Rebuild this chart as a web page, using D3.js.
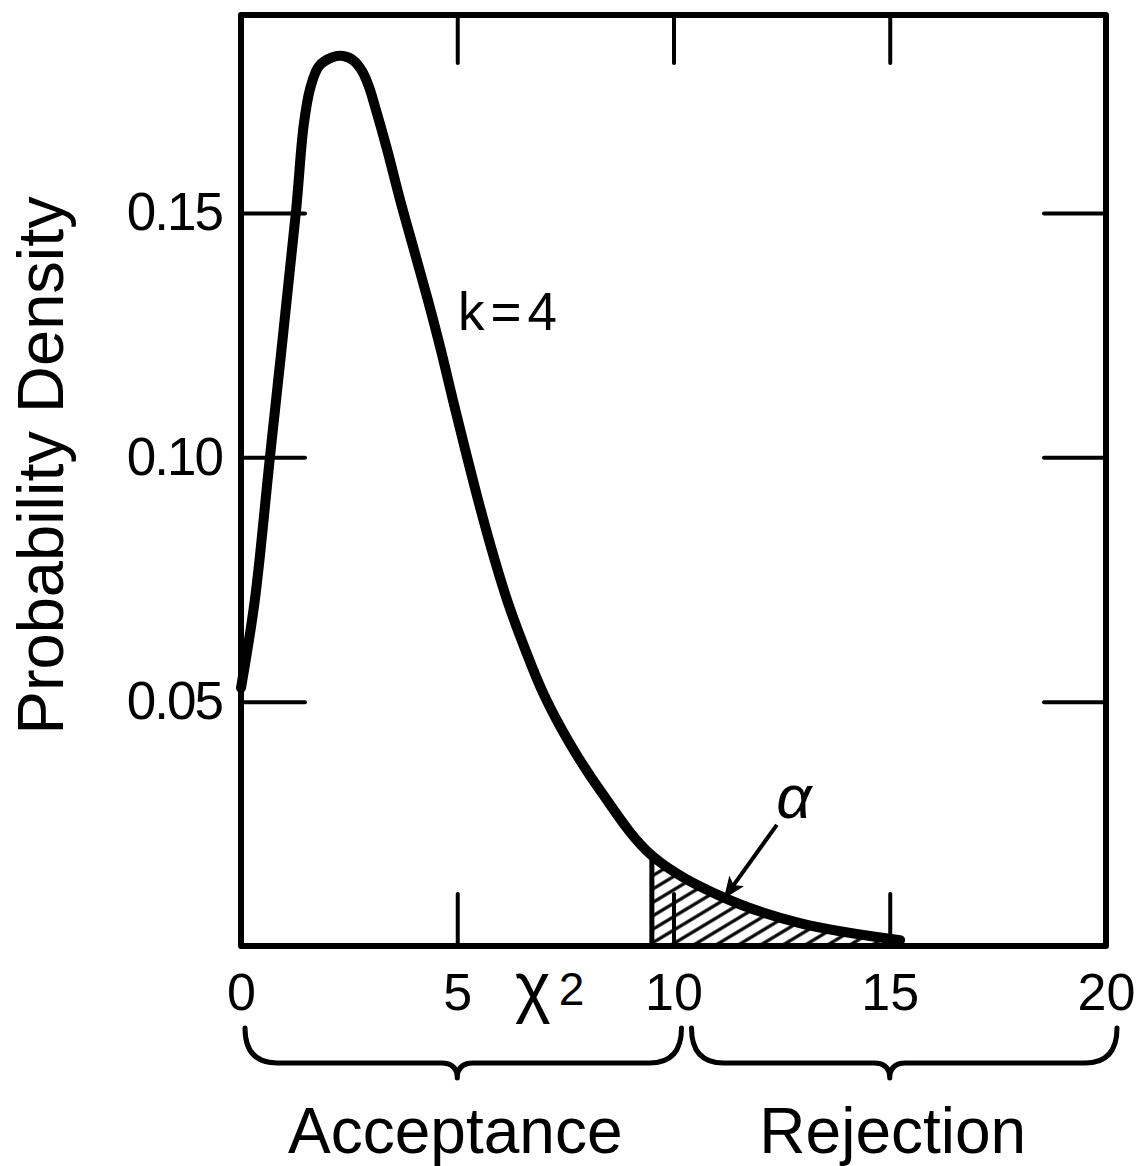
<!DOCTYPE html>
<html>
<head>
<meta charset="utf-8">
<script src="https://cdn.jsdelivr.net/npm/d3@7"></script>
<style>
  body { margin: 0; background: #fff; }
  svg { display: block; }
</style>
</head>
<body>
<div id="chart"></div>
<script>
// curve (chi-square, k = 4)
const chiX    = [0, 0.32, 0.67, 1.27, 1.45, 1.6, 1.8, 2.1, 2.36, 2.6, 2.8, 2.95, 3.1, 3.38, 3.68, 4.0, 4.32, 4.62, 4.9, 5.18, 5.46, 5.8, 6.17, 6.57, 7.0, 7.6, 8.3, 9.5, 11.14, 12.92, 15.24];
const density = [0.0528, 0.0708, 0.1001, 0.1502, 0.1680, 0.1755, 0.1800, 0.1818, 0.1821, 0.1812, 0.1790, 0.1760, 0.1717, 0.1629, 0.1526, 0.1424, 0.1322, 0.1220, 0.1117, 0.1017, 0.0920, 0.0810, 0.0703, 0.0607, 0.0515, 0.0415, 0.0319, 0.0185, 0.0100, 0.0047, 0.0012];

const xTicks = [0, 5, 10, 15, 20];
const xInnerTicks = [5, 10, 15];
const yTicks = [0.05, 0.10, 0.15];
const xExtent = [0, 20];
const yExtent = [0, 0.1905];

const critical = 9.5;
const regions = ["Acceptance", "Rejection"];
const regionSpans = [[0, 5, 10], [10, 15, 20]];   // start, middle, end
const alphaArrow = [[12.39, 0.0248], [11.19, 0.0100]];

const W = 1142, H = 1166;
const font = "'Liberation Sans', Arial, Helvetica, sans-serif";

const svg = d3.select("#chart").append("svg")
    .attr("width", W)
    .attr("height", H);

const x = d3.scaleLinear().domain(xExtent).range([241, 1106]);
const y = d3.scaleLinear().domain(yExtent).range([946, 15]);

const pts = chiX.map((d, i) => [d, density[i]]);
const smooth = d3.curveCatmullRom.alpha(0.5);

// hatch pattern
const defs = svg.append("defs");
const pat = defs.append("pattern")
    .attr("id", "hatch")
    .attr("patternUnits", "userSpaceOnUse")
    .attr("width", 20)
    .attr("height", 11.5)
    .attr("patternTransform", "rotate(-31)");
pat.append("line")
    .attr("x1", 0).attr("x2", 20)
    .attr("y1", 5.75).attr("y2", 5.75)
    .attr("stroke", "#000")
    .attr("stroke-width", 3.2);

defs.append("marker")
    .attr("id", "head")
    .attr("markerUnits", "userSpaceOnUse")
    .attr("viewBox", "0 0 22 18")
    .attr("refX", 20).attr("refY", 9)
    .attr("markerWidth", 22).attr("markerHeight", 18)
    .attr("orient", "auto")
    .append("path")
    .attr("d", "M0,0 L22,9 L0,18 L5,9 Z")
    .attr("fill", "#000");

// rejection area
const tail = pts.filter(d => d[0] >= critical);
const area = d3.area()
    .x(d => x(d[0]))
    .y0(y(0))
    .y1(d => y(d[1]))
    .curve(smooth);

svg.append("path")
    .datum(tail)
    .attr("d", area)
    .attr("fill", "url(#hatch)");

svg.append("line")
    .attr("x1", x(critical)).attr("x2", x(critical))
    .attr("y1", y(0)).attr("y2", y(tail[0][1]))
    .attr("stroke", "#000")
    .attr("stroke-width", 5);

// arrow to alpha
svg.append("line")
    .attr("x1", x(alphaArrow[0][0])).attr("y1", y(alphaArrow[0][1]))
    .attr("x2", x(alphaArrow[1][0])).attr("y2", y(alphaArrow[1][1]))
    .attr("stroke", "#000")
    .attr("stroke-width", 4)
    .attr("marker-end", "url(#head)");

// the curve
const line = d3.line()
    .x(d => x(d[0]))
    .y(d => y(d[1]))
    .curve(smooth);

svg.append("path")
    .datum(pts)
    .attr("d", line)
    .attr("fill", "none")
    .attr("stroke", "#000")
    .attr("stroke-width", 10)
    .attr("stroke-linecap", "round")
    .attr("stroke-linejoin", "round");

// frame
svg.append("rect")
    .attr("x", x(xExtent[0]))
    .attr("y", y(yExtent[1]))
    .attr("width", x(xExtent[1]) - x(xExtent[0]))
    .attr("height", y(yExtent[0]) - y(yExtent[1]))
    .attr("fill", "none")
    .attr("stroke", "#000")
    .attr("stroke-width", 6)
    .attr("stroke-linejoin", "round");

function styleAxis(g, size) {
    g.select(".domain").remove();
    g.selectAll(".tick line")
        .attr("stroke", "#000")
        .attr("stroke-width", 4)
        .attr("stroke-linecap", "round");
    g.attr("font-family", font).attr("font-size", size);
    g.selectAll(".tick text").attr("fill", "#000");
}

// bottom labels; inner ticks only at 5, 10, 15
svg.append("g")
    .attr("transform", `translate(0,${y(0)})`)
    .call(d3.axisBottom(x).tickValues(xTicks).tickSize(0).tickPadding(27).tickFormat(d3.format("d")))
    .call(g => styleAxis(g, 52));

svg.append("g")
    .attr("transform", `translate(0,${y(0)})`)
    .call(d3.axisBottom(x).tickValues(xInnerTicks).tickSize(-52).tickFormat(""))
    .call(g => styleAxis(g, 10));

svg.append("g")
    .attr("transform", `translate(0,${y(yExtent[1])})`)
    .call(d3.axisTop(x).tickValues(xInnerTicks).tickSize(-48).tickFormat(""))
    .call(g => styleAxis(g, 10));

svg.append("g")
    .attr("transform", `translate(${x(xExtent[0])},0)`)
    .call(d3.axisLeft(y).tickValues(yTicks).tickSize(-64).tickPadding(19).tickFormat(d3.format(".2f")))
    .call(g => styleAxis(g, 53))
    .call(g => g.selectAll(".tick text").attr("letter-spacing", -2));

svg.append("g")
    .attr("transform", `translate(${x(xExtent[1])},0)`)
    .call(d3.axisRight(y).tickValues(yTicks).tickSize(-62).tickFormat(""))
    .call(g => styleAxis(g, 10));

// y title
svg.append("text")
    .attr("transform", `translate(63,${(y(yTicks[0]) + y(yTicks[2])) / 2 + 8}) rotate(-90)`)
    .attr("text-anchor", "middle")
    .attr("font-family", font)
    .attr("font-size", 65)
    .text("Probability Density");

// chi-square symbol
const chi = svg.append("text")
    .attr("x", 515)
    .attr("y", 1010)
    .attr("font-family", font)
    .attr("font-size", 68);
chi.append("tspan").text("χ");
chi.append("tspan").attr("font-size", 46).attr("dx", 8).attr("dy", -5).text("2");

// k = 4
svg.append("text")
    .attr("x", 458)
    .attr("y", 330)
    .attr("font-family", font)
    .attr("font-size", 53)
    .attr("letter-spacing", 6)
    .text("k=4");

// alpha
svg.append("text")
    .attr("x", x(alphaArrow[0][0]) + 17)
    .attr("y", 818)
    .attr("text-anchor", "middle")
    .attr("font-family", font)
    .attr("font-style", "italic")
    .attr("font-size", 62)
    .text("α");

// braces
function bracePath(x0, xm, x1) {
    const yt = 1028, yb = 1063, r = 32, c = 16, tip = 15;
    return `M${x0},${yt} Q${x0},${yb} ${x0 + r},${yb} L${xm - c},${yb} ` +
           `Q${xm},${yb} ${xm},${yb + tip} Q${xm},${yb} ${xm + c},${yb} ` +
           `L${x1 - r},${yb} Q${x1},${yb} ${x1},${yt}`;
}

const gapL = [4, 8], gapR = [18, 11];
regionSpans.forEach((s, i) => {
    const x0 = x(s[0]) + (i === 0 ? gapL[0] : gapR[0]);
    const x1 = x(s[2]) + (i === 0 ? gapL[1] : gapR[1]);
    svg.append("path")
        .attr("d", bracePath(x0, x(s[1]), x1))
        .attr("fill", "none")
        .attr("stroke", "#000")
        .attr("stroke-width", 5)
        .attr("stroke-linecap", "round")
        .attr("stroke-linejoin", "round");

    svg.append("text")
        .attr("x", x(s[1]) + (i === 0 ? -2 : 3))
        .attr("y", 1153)
        .attr("text-anchor", "middle")
        .attr("font-family", font)
        .attr("font-size", 64)
        .text(regions[i]);
});
</script>
</body>
</html>
